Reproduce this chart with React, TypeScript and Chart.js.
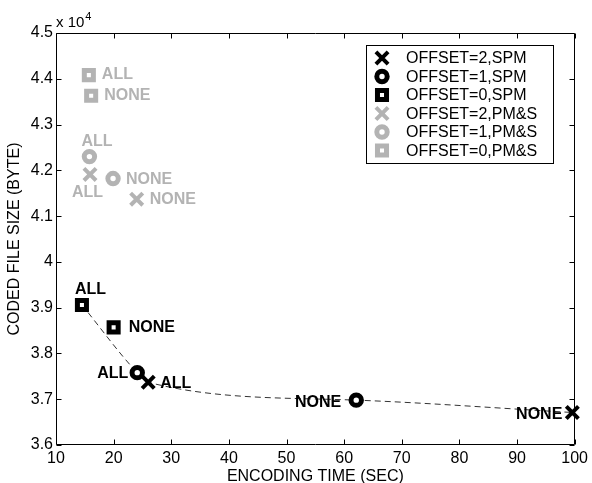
import React, { useEffect, useRef } from 'react';
import { Chart, registerables } from 'chart.js';

Chart.register(...registerables);

// ---------- data ----------
const X_TICKS = [10, 20, 30, 40, 50, 60, 70, 80, 90, 100];
const Y_TICKS = [36000, 37000, 38000, 39000, 40000, 41000, 42000, 43000, 44000, 45000];

const SERIES_LABELS = [
  'OFFSET=2,SPM',
  'OFFSET=1,SPM',
  'OFFSET=0,SPM',
  'OFFSET=2,PM&S',
  'OFFSET=1,PM&S',
  'OFFSET=0,PM&S',
];
const POINT_TAGS = ['ALL', 'NONE'];

const OFFSET2_SPM_TIME = [26.0, 99.6];
const OFFSET2_SPM_SIZE = [37370, 36710];
const OFFSET1_SPM_TIME = [24.1, 62.1];
const OFFSET1_SPM_SIZE = [37580, 36980];
const OFFSET0_SPM_TIME = [14.5, 20.0];
const OFFSET0_SPM_SIZE = [39060, 38570];
const OFFSET2_PMS_TIME = [15.9, 24.0];
const OFFSET2_PMS_SIZE = [41910, 41370];
const OFFSET1_PMS_TIME = [15.8, 19.9];
const OFFSET1_PMS_SIZE = [42300, 41820];
const OFFSET0_PMS_TIME = [15.7, 16.1];
const OFFSET0_PMS_SIZE = [44080, 43630];

const SERIES_TIME = [OFFSET2_SPM_TIME, OFFSET1_SPM_TIME, OFFSET0_SPM_TIME, OFFSET2_PMS_TIME, OFFSET1_PMS_TIME, OFFSET0_PMS_TIME];
const SERIES_SIZE = [OFFSET2_SPM_SIZE, OFFSET1_SPM_SIZE, OFFSET0_SPM_SIZE, OFFSET2_PMS_SIZE, OFFSET1_PMS_SIZE, OFFSET0_PMS_SIZE];

// dashed trade-off curve passes through these [series, point] pairs
const FRONTIER_MEMBERS: [number, number][] = [[2, 0], [1, 0], [0, 0], [1, 1], [0, 1]];

// ---------- styles ----------
const BLACK = '#000000';
const GRAY = '#b3b3b3';
const FONT_FAMILY = "'Liberation Sans', Arial, Helvetica, sans-serif";
const SERIES_COLOR = [BLACK, BLACK, BLACK, GRAY, GRAY, GRAY];
const SERIES_STYLE = ['crossRot', 'circle', 'rect', 'crossRot', 'circle', 'rect'];
const STYLE_RADIUS: Record<string, number> = { crossRot: 8.6, circle: 5.2, rect: 6.4 };
const STYLE_WIDTH: Record<string, number> = { crossRot: 4, circle: 5, rect: 5 };

// label offsets (px from marker centre) and alignment for each series/point
const LABEL_LAYOUT: [number, number, CanvasTextAlign][][] = [
  [[12, 1, 'left'], [-10, 2, 'right']],
  [[-9, 1, 'right'], [-15, 2, 'right']],
  [[-7, -15, 'left'], [15, 0, 'left']],
  [[-18, 18, 'left'], [13, 0, 'left']],
  [[-8, -15, 'left'], [13, 1, 'left']],
  [[13, -1, 'left'], [13, 0, 'left']],
];

function drawMarker(ctx: CanvasRenderingContext2D, style: string, x: number, y: number, color: string) {
  const r = STYLE_RADIUS[style];
  ctx.save();
  ctx.lineWidth = STYLE_WIDTH[style];
  ctx.strokeStyle = color;
  ctx.fillStyle = '#ffffff';
  ctx.beginPath();
  if (style === 'rect') {
    const s = Math.SQRT1_2 * r;
    ctx.rect(x - s, y - s, 2 * s, 2 * s);
    ctx.fill();
  } else if (style === 'circle') {
    ctx.arc(x, y, r, 0, Math.PI * 2);
    ctx.closePath();
    ctx.fill();
  } else {
    const o = Math.SQRT1_2 * r;
    ctx.moveTo(x - o, y - o);
    ctx.lineTo(x + o, y + o);
    ctx.moveTo(x + o, y - o);
    ctx.lineTo(x - o, y + o);
  }
  ctx.stroke();
  ctx.restore();
}

const decorPlugin = {
  id: 'matlabDecor',
  beforeDatasetsDraw(chart: any) {
    const { ctx, chartArea } = chart;
    const { left, right, top, bottom } = chartArea;
    const xs = chart.scales.x;
    const ys = chart.scales.y;
    ctx.save();
    ctx.strokeStyle = '#000';
    ctx.lineWidth = 1;
    const L = Math.round(left) + 0.5;
    const R = Math.round(right) - 0.5;
    const T = Math.round(top) + 0.5;
    const B = Math.round(bottom) - 0.5;
    ctx.beginPath();
    ctx.rect(L, T, R - L, B - T);
    const tl = 5;
    X_TICKS.forEach((v) => {
      const px = Math.round(xs.getPixelForValue(v)) + 0.5;
      ctx.moveTo(px, B);
      ctx.lineTo(px, B - tl);
      ctx.moveTo(px, T);
      ctx.lineTo(px, T + tl);
    });
    Y_TICKS.forEach((v) => {
      const py = Math.round(ys.getPixelForValue(v)) + 0.5;
      ctx.moveTo(L, py);
      ctx.lineTo(L + tl, py);
      ctx.moveTo(R, py);
      ctx.lineTo(R - tl, py);
    });
    ctx.stroke();
    // exponent
    ctx.fillStyle = '#000';
    ctx.textBaseline = 'alphabetic';
    ctx.textAlign = 'left';
    ctx.font = `15px ${FONT_FAMILY}`;
    const base = 'x 10';
    ctx.fillText(base, left, top - 6);
    const w = ctx.measureText(base).width;
    ctx.font = `11px ${FONT_FAMILY}`;
    ctx.fillText('4', left + w + 1, top - 13);
    ctx.restore();
  },
  afterDatasetsDraw(chart: any) {
    const { ctx } = chart;
    const xs = chart.scales.x;
    const ys = chart.scales.y;
    ctx.save();
    // point tags
    ctx.font = `bold 16px ${FONT_FAMILY}`;
    ctx.textBaseline = 'middle';
    SERIES_TIME.forEach((times, si) => {
      times.forEach((t, pi) => {
        const px = xs.getPixelForValue(t);
        const py = ys.getPixelForValue(SERIES_SIZE[si][pi]);
        const [dx, dy, align] = LABEL_LAYOUT[si][pi];
        ctx.fillStyle = SERIES_COLOR[si];
        ctx.textAlign = align;
        ctx.fillText(POINT_TAGS[pi], px + dx, py + dy);
      });
    });
    // legend
    const bx = 366.5, by = 45.5, bw = 187, bh = 118;
    ctx.fillStyle = '#fff';
    ctx.fillRect(bx, by, bw, bh);
    ctx.strokeStyle = '#000';
    ctx.lineWidth = 1;
    ctx.strokeRect(bx, by, bw, bh);
    ctx.font = `16px ${FONT_FAMILY}`;
    ctx.textAlign = 'left';
    ctx.textBaseline = 'middle';
    SERIES_LABELS.forEach((lab, i) => {
      const ry = 58 + i * 18.5;
      drawMarker(ctx, SERIES_STYLE[i], 382, ry, SERIES_COLOR[i]);
      ctx.fillStyle = '#000';
      ctx.fillText(lab, 406, ry + 1);
    });
    ctx.restore();
  },
};

export default function App() {
  const ref = useRef<HTMLCanvasElement>(null);
  useEffect(() => {
    const canvas = ref.current;
    if (!canvas) return;
    const pointDatasets = SERIES_LABELS.map((label, i) => {
      const style = SERIES_STYLE[i];
      return {
        label,
        data: SERIES_TIME[i].map((t, j) => ({ x: t, y: SERIES_SIZE[i][j] })),
        pointStyle: style,
        pointRadius: STYLE_RADIUS[style],
        pointHoverRadius: STYLE_RADIUS[style],
        borderWidth: STYLE_WIDTH[style],
        borderColor: SERIES_COLOR[i],
        backgroundColor: '#ffffff',
        showLine: false,
        clip: false,
        order: 1,
      };
    });
    const frontier = {
      label: 'frontier',
      data: FRONTIER_MEMBERS.map(([s, p]) => ({ x: SERIES_TIME[s][p], y: SERIES_SIZE[s][p] })),
      showLine: true,
      pointRadius: 0,
      borderColor: '#333333',
      borderWidth: 1,
      borderDash: [6, 4],
      cubicInterpolationMode: 'monotone',
      fill: false,
      clip: false,
      order: 10,
    };
    const tickFont = { family: FONT_FAMILY, size: 16 };
    const chart = new Chart(canvas, {
      type: 'scatter',
      data: { datasets: [...pointDatasets, frontier] as any },
      options: {
        animation: false,
        responsive: false,
        devicePixelRatio: 1,
        events: [],
        layout: { padding: { left: 0, right: 17, top: 33, bottom: 0 } },
        plugins: { legend: { display: false }, tooltip: { enabled: false } },
        scales: {
          x: {
            type: 'linear',
            min: 10,
            max: 100,
            afterBuildTicks: (s: any) => { s.ticks = X_TICKS.map((v) => ({ value: v })); },
            afterFit: (s: any) => { s.height = 38; },
            ticks: { font: tickFont, color: '#000', padding: 4, maxRotation: 0, autoSkip: false, callback: (v: any) => String(v) },
            grid: { display: false, drawTicks: false },
            border: { display: false },
            title: { display: true, text: 'ENCODING TIME (SEC)', font: tickFont, color: '#000', padding: { top: 0, bottom: -3 } },
          },
          y: {
            type: 'linear',
            min: 36000,
            max: 45000,
            afterBuildTicks: (s: any) => { s.ticks = Y_TICKS.map((v) => ({ value: v })); },
            afterFit: (s: any) => { s.width = 56; },
            ticks: { font: tickFont, color: '#000', padding: 3, autoSkip: false, callback: (v: any) => String(Number((v / 10000).toFixed(1))) },
            grid: { display: false, drawTicks: false },
            border: { display: false },
            title: { display: true, text: 'CODED FILE SIZE (BYTE)', font: tickFont, color: '#000', padding: { top: 5, bottom: 0 } },
          },
        },
      } as any,
      plugins: [decorPlugin],
    });
    return () => chart.destroy();
  }, []);
  return (
    <div style={{ position: 'fixed', left: 0, top: 0, width: 592, height: 483, background: '#fff' }}>
      <canvas ref={ref} width={592} height={483} style={{ display: 'block', width: 592, height: 483 }} />
    </div>
  );
}
